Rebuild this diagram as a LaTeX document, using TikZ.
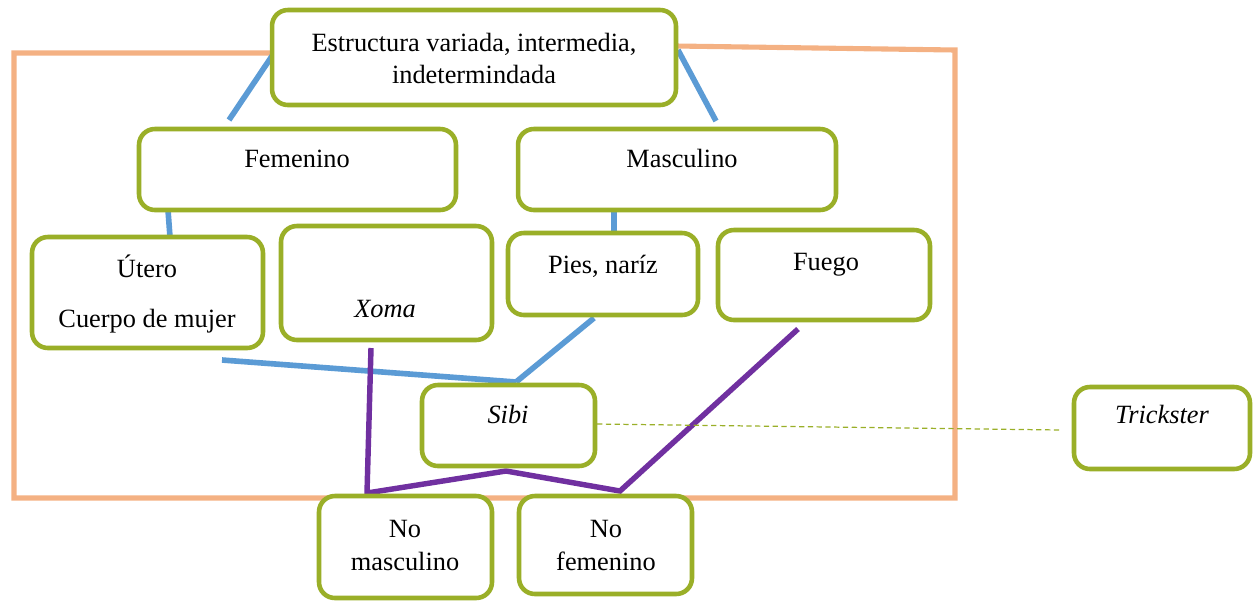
\documentclass[tikz,border=0pt]{standalone}
\usepackage{fontspec}
\setmainfont{Liberation Serif}
\definecolor{boxgreen}{HTML}{9AAF28}
\definecolor{linkblue}{HTML}{5B9BD5}
\definecolor{framepeach}{HTML}{F4B183}
\definecolor{linkpurple}{HTML}{7030A0}
\tikzset{
  gbox/.style={draw=boxgreen, line width=2.6pt, rounded corners=9pt, fill=white, inner sep=0pt},
  lbl/.style={anchor=base, inner sep=0pt, align=center},
  blueline/.style={draw=linkblue, line width=3.2pt},
  purpleline/.style={draw=linkpurple, line width=3.1pt, line join=miter},
  peachline/.style={draw=framepeach, line width=2.9pt},
  greendash/.style={draw=boxgreen, line width=0.7pt, dash pattern=on 3pt off 2pt}
}
\begin{document}
\begin{tikzpicture}[x=0.02cm, y=-0.02cm, font=\fontsize{15}{18}\selectfont]
\useasboundingbox (0,0) rectangle (1254,603);

% connector end points
\coordinate (topL) at (272,53);
\coordinate (topR) at (676,46);
\coordinate (fL) at (14,53);
\coordinate (fB) at (14,498);
\coordinate (fR) at (955,498);
\coordinate (fT) at (955,50);
\coordinate (b1a) at (272,56);  \coordinate (b1b) at (229,120);
\coordinate (b2a) at (678,50);  \coordinate (b2b) at (716,121);
\coordinate (b3a) at (168,210); \coordinate (b3b) at (170,237);
\coordinate (b4a) at (614,210); \coordinate (b4b) at (614,233);
\coordinate (b5a) at (222,360); \coordinate (sibiTop) at (516,382);
\coordinate (b6a) at (594,318);
\coordinate (p1) at (371,348);  \coordinate (p2) at (367,493);
\coordinate (p3) at (506,471);  \coordinate (p4) at (620,491);
\coordinate (p5) at (798,329);
\coordinate (dA) at (597,424);  \coordinate (dB) at (1060,430);

% peach frame
\draw[peachline] (topL) -- (fL) -- (fB) -- (fR) -- (fT) -- (topR);

% blue links
\draw[blueline] (b1a) -- (b1b);
\draw[blueline] (b2a) -- (b2b);
\draw[blueline] (b3a) -- (b3b);
\draw[blueline] (b4a) -- (b4b);
\draw[blueline] (b5a) -- (sibiTop);
\draw[blueline] (b6a) -- (sibiTop);

% purple links
\draw[purpleline] (p1) -- (p2) -- (p3) -- (p4) -- (p5);

% dashed link
\draw[greendash] (dA) -- (dB);

% boxes
\node[gbox, minimum width=8.08cm, minimum height=1.9cm] (top) at (474,57.5) {};
\node[gbox, minimum width=6.34cm, minimum height=1.62cm] (fem) at (297.5,169.5) {};
\node[gbox, minimum width=6.36cm, minimum height=1.62cm] (masc) at (677,169.5) {};
\node[gbox, minimum width=4.62cm, minimum height=2.22cm] (utero) at (147.5,292.5) {};
\node[gbox, minimum width=4.22cm, minimum height=2.28cm] (xoma) at (386.5,283) {};
\node[gbox, minimum width=3.8cm, minimum height=1.64cm] (pies) at (603,274) {};
\node[gbox, minimum width=4.24cm, minimum height=1.8cm] (fuego) at (824,275) {};
\node[gbox, minimum width=3.46cm, minimum height=1.62cm] (sibi) at (508.5,425.5) {};
\node[gbox, minimum width=3.46cm, minimum height=2.04cm] (nomasc) at (405.5,547) {};
\node[gbox, minimum width=3.46cm, minimum height=1.96cm] (nofem) at (605.5,545) {};
\node[gbox, minimum width=3.52cm, minimum height=1.64cm] (trick) at (1162,428) {};

% texts
\node[lbl] (tTop1) at (474,51) {Estructura variada, intermedia,};
\node[lbl] (tTop2) at (474,83) {indetermindada};
\node[lbl] (tFem) at (297,167) {Femenino};
\node[lbl] (tMasc) at (682,167) {Masculino};
\node[lbl] (tUt1) at (147,277) {Útero};
\node[lbl] (tUt2) at (147,327) {Cuerpo de mujer};
\node[lbl] (tXoma) at (385,317) {\itshape Xoma};
\node[lbl] (tPies) at (603,273) {Pies, naríz};
\node[lbl] (tFuego) at (826,270) {Fuego};
\node[lbl] (tSibi) at (508,423) {\itshape Sibi};
\node[lbl] (tNm1) at (405,537) {No};
\node[lbl] (tNm2) at (405,570) {masculino};
\node[lbl] (tNf1) at (606,537) {No};
\node[lbl] (tNf2) at (606,570) {femenino};
\node[lbl] (tTrick) at (1162,423) {\itshape Trickster};
\end{tikzpicture}
\end{document}
